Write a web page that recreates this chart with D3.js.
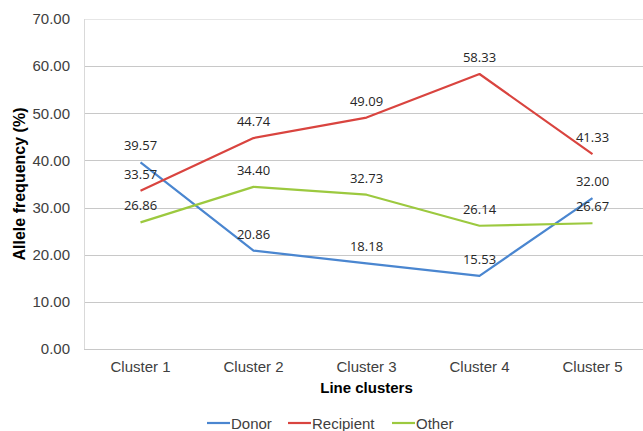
<!DOCTYPE html>
<html><head><meta charset="utf-8">
<script src="https://cdn.jsdelivr.net/npm/d3@7"></script>
<style>body{margin:0;background:#fff}</style>
</head><body>
<svg id="c" width="643" height="431"></svg>
<script>
const categories = ["Cluster 1","Cluster 2","Cluster 3","Cluster 4","Cluster 5"];
const donor = [39.57, 20.86, 18.18, 15.53, 32.00];
const recipient = [33.57, 44.74, 49.09, 58.33, 41.33];
const other = [26.86, 34.40, 32.73, 26.14, 26.67];
const seriesNames = ["Donor","Recipient","Other"];
const seriesColors = ["#4a86d0","#d9443f","#9cc93f"];
const yTicks = [0,10,20,30,40,50,60,70];

const series = [donor, recipient, other].map((v,i)=>({name:seriesNames[i], color:seriesColors[i], values:v}));
const svg = d3.select("#c");
const m = {l:84, r:-6, t:19, b:82};
const W = 643, H = 431;
const x = d3.scaleBand().domain(categories).range([m.l, W - m.r]);
const y = d3.scaleLinear().domain([0,70]).range([H - m.b, m.t]);
const sans = "Liberation Sans, Arial, sans-serif";

// gridlines
svg.append("g").selectAll("line").data(yTicks).join("line")
  .attr("x1", m.l).attr("x2", W)
  .attr("y1", d=>Math.round(y(d))+0.5).attr("y2", d=>Math.round(y(d))+0.5)
  .attr("stroke", d=> d===70 ? "#e6e6e6" : "#c8c8c8").attr("stroke-width",1);
svg.append("line").attr("x1", m.l+0.5).attr("x2", m.l+0.5).attr("y1", y(70)).attr("y2", y(0))
  .attr("stroke","#d9d9d9");

// y axis labels
const yAxis = d3.axisLeft(y).tickValues(yTicks).tickFormat(d3.format(".2f")).tickSize(0).tickPadding(14);
const ga = svg.append("g").attr("transform",`translate(${m.l},0)`).call(yAxis);
ga.select(".domain").remove();
ga.selectAll("text").attr("font-family",sans).attr("font-size",15).attr("fill","#404040");

// x axis labels
const xAxis = d3.axisBottom(x).tickSize(0).tickPadding(12);
const gx = svg.append("g").attr("transform",`translate(0,${y(0)})`).call(xAxis);
gx.select(".domain").remove();
gx.selectAll("text").attr("font-family",sans).attr("font-size",15).attr("fill","#404040");

// titles
svg.append("text").attr("x", x("Cluster 3")+x.bandwidth()/2).attr("y", 393).attr("text-anchor","middle")
  .attr("font-family",sans).attr("font-size",15).attr("font-weight","bold").attr("fill","#000")
  .text("Line clusters");
svg.append("text").attr("transform",`translate(25,${y(35)}) rotate(-90)`).attr("text-anchor","middle")
  .attr("font-family",sans).attr("font-size",16).attr("font-weight","bold").attr("fill","#000")
  .text("Allele frequency (%)");

// lines
const line = d3.line().x((d,i)=>x(categories[i])+x.bandwidth()/2).y(d=>y(d));
series.forEach(s=>{
  svg.append("path").datum(s.values).attr("d", line).attr("fill","none")
    .attr("stroke", s.color).attr("stroke-width",2.2).attr("stroke-linejoin","round");
});
// data labels
series.forEach(s=>{
  svg.append("g").selectAll("text").data(s.values).join("text")
    .attr("x",(d,i)=>x(categories[i])+x.bandwidth()/2)
    .attr("y", d=>y(d)-12)
    .attr("text-anchor","middle")
    .attr("font-family","Open Sans, Noto Sans, sans-serif").attr("font-size",13).attr("fill","#262626")
    .text(d=>d3.format(".2f")(d));
});

// legend
const lg = svg.append("g");
const legX = [207, 288, 392];
series.forEach((s,i)=>{
  const g = lg.append("g").attr("transform",`translate(${legX[i]},423)`);
  g.append("line").attr("x1",0).attr("x2",23).attr("y1",0).attr("y2",0).attr("stroke",s.color).attr("stroke-width",2.2);
  g.append("text").attr("x",24).attr("y",5.5).attr("font-family",sans)
    .attr("font-size",15).attr("fill","#404040").text(s.name);
});
</script>
</body></html>
